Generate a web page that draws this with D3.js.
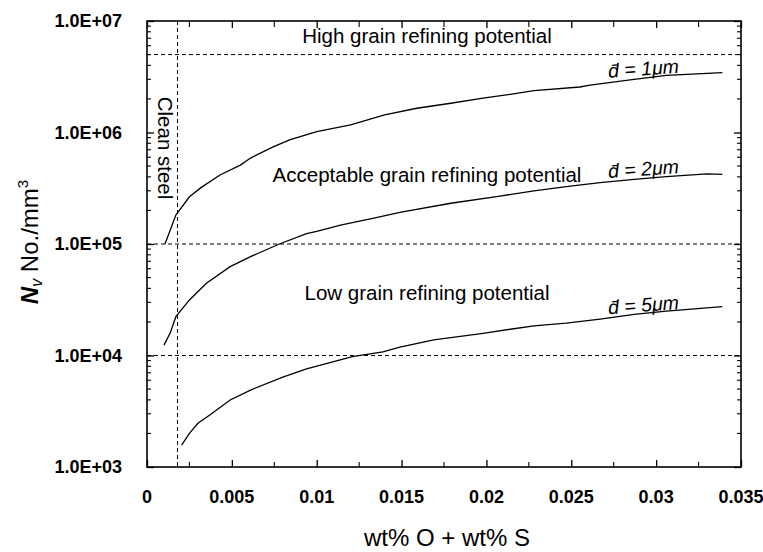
<!DOCTYPE html>
<html lang="en">
<head>
<meta charset="UTF-8">
<script src="https://cdn.jsdelivr.net/npm/d3@7"></script>
<title>Nv vs wt% O + wt% S</title>
<style>
  body { margin: 0; background: #fff; }
  svg text { font-family: "Liberation Sans", Arial, sans-serif; fill: #000; }
  .tick-lbl { font-size: 18px; font-weight: bold; }
  .zone { font-size: 20.5px; }
</style>
</head>
<body>
<script>
// curve d = 1 um
let xD1 = [0.00106, 0.0017, 0.0025, 0.0032, 0.0043, 0.0055, 0.0061, 0.0074, 0.0084, 0.0100, 0.0120, 0.0140, 0.0159, 0.0179, 0.0198, 0.0214, 0.0228, 0.0255, 0.0261, 0.0287, 0.0306, 0.0339];
let yD1 = [1.0e5, 1.82e5, 2.65e5, 3.22e5, 4.16e5, 5.1e5, 5.9e5, 7.4e5, 8.6e5, 1.02e6, 1.17e6, 1.44e6, 1.65e6, 1.83e6, 2.03e6, 2.2e6, 2.37e6, 2.56e6, 2.66e6, 3.0e6, 3.26e6, 3.44e6];
// curve d = 2 um
let xD2 = [0.0010, 0.00136, 0.0017, 0.0025, 0.0035, 0.0049, 0.0061, 0.0078, 0.0094, 0.0100, 0.0114, 0.0133, 0.0149, 0.0179, 0.0208, 0.0228, 0.0247, 0.0267, 0.0287, 0.0306, 0.0330, 0.0339];
let yD2 = [1.24e4, 1.58e4, 2.23e4, 3.15e4, 4.45e4, 6.26e4, 7.7e4, 1.0e5, 1.24e5, 1.3e5, 1.48e5, 1.7e5, 1.92e5, 2.32e5, 2.69e5, 3.0e5, 3.27e5, 3.55e5, 3.8e5, 4.02e5, 4.25e5, 4.22e5];
// curve d = 5 um
let xD5 = [0.00204, 0.0025, 0.0030, 0.0037, 0.0049, 0.0061, 0.0080, 0.0094, 0.0110, 0.0121, 0.0139, 0.0149, 0.0169, 0.0198, 0.0214, 0.0228, 0.0247, 0.0267, 0.0287, 0.0306, 0.0339];
let yD5 = [1.57e3, 2.0e3, 2.47e3, 2.93e3, 3.99e3, 4.9e3, 6.4e3, 7.6e3, 8.8e3, 9.77e3, 1.08e4, 1.19e4, 1.38e4, 1.58e4, 1.72e4, 1.84e4, 1.95e4, 2.12e4, 2.34e4, 2.5e4, 2.74e4];

let xTicks = [0, 0.005, 0.01, 0.015, 0.02, 0.025, 0.03, 0.035];
let xTickLabels = ["0", "0.005", "0.01", "0.015", "0.02", "0.025", "0.03", "0.035"];
let yTicks = [1e3, 1e4, 1e5, 1e6, 1e7];
let yTickLabels = ["1.0E+03", "1.0E+04", "1.0E+05", "1.0E+06", "1.0E+07"];
let limitValues = [5e6, 1e5, 1e4];
let cleanSteel = 0.0018;

let zoneNames = ["High grain refining potential", "Acceptable grain refining potential", "Low grain refining potential"];
let zoneValues = [6.35e6, 3.6e5, 3.15e4];
let curveNames = ["d\u0304 = 1\u03bcm", "d\u0304 = 2\u03bcm", "d\u0304 = 5\u03bcm"];
let curveLabelAt = [[0.0272, 3.1e6], [0.0272, 3.9e5], [0.0272, 2.35e4]];

let width = 763, height = 552;
let margin = {top: 21, right: 22, bottom: 85, left: 147};
let x = d3.scaleLinear().domain([0, 0.035]).range([margin.left, width - margin.right]);
let y = d3.scaleLog().domain([1e3, 1e7]).range([height - margin.bottom, margin.top]);

let svg = d3.select("body").append("svg")
  .attr("width", width).attr("height", height);

// minor ticks for the log axes and the half steps on x
let minorY = [];
for (let e = 3; e < 7; e++) {
  for (let m = 2; m <= 9; m++) minorY.push(m * Math.pow(10, e));
}
let minorX = d3.range(0.0025, 0.035, 0.005);

function minorLines(g, data, horiz, len) {
  g.selectAll(".minor").data(data).enter().append("line").attr("class", "minor")
    .attr(horiz ? "x1" : "y1", d => horiz ? x(d) : y(d))
    .attr(horiz ? "x2" : "y2", d => horiz ? x(d) : y(d))
    .attr(horiz ? "y1" : "x1", 0).attr(horiz ? "y2" : "x2", len)
    .attr("stroke", "#000");
}

// ticks point inward on all four sides
let xb = svg.append("g").attr("transform", "translate(0," + y(1e3) + ")");
xb.call(d3.axisBottom(x).tickValues(xTicks).tickSizeInner(-7).tickSizeOuter(0).tickFormat(""));
minorLines(xb, minorX, true, -5);
let xt = svg.append("g").attr("transform", "translate(0," + y(1e7) + ")");
xt.call(d3.axisTop(x).tickValues(xTicks).tickSizeInner(-7).tickSizeOuter(0).tickFormat(""));
minorLines(xt, minorX, true, 6);

let yl = svg.append("g").attr("transform", "translate(" + x(0) + ",0)");
yl.call(d3.axisLeft(y).tickValues(yTicks).tickSizeInner(-7).tickSizeOuter(0).tickFormat(""));
minorLines(yl, minorY, false, 4);
let yr = svg.append("g").attr("transform", "translate(" + x(0.035) + ",0)");
yr.call(d3.axisRight(y).tickValues(yTicks).tickSizeInner(-7).tickSizeOuter(0).tickFormat(""));
minorLines(yr, minorY, false, -4);

svg.selectAll(".domain").remove();
svg.selectAll(".tick line").attr("stroke-width", 1.3);
svg.selectAll("line.minor").attr("stroke-width", 1.1);

// frame
svg.append("rect")
  .attr("x", x(0)).attr("y", y(1e7))
  .attr("width", x(0.035) - x(0)).attr("height", y(1e3) - y(1e7))
  .attr("fill", "none").attr("stroke", "#000").attr("stroke-width", 1.6);

// tick labels
svg.append("g").selectAll("text").data(xTicks).enter().append("text")
  .attr("class", "tick-lbl")
  .attr("x", d => x(d)).attr("y", y(1e3) + 36)
  .attr("text-anchor", "middle")
  .text((d, i) => xTickLabels[i]);
svg.append("g").selectAll("text").data(yTicks).enter().append("text")
  .attr("class", "tick-lbl")
  .attr("x", x(0) - 25).attr("y", d => y(d)).attr("dy", "0.36em")
  .attr("text-anchor", "end")
  .text((d, i) => yTickLabels[i]);

// dashed limit lines
svg.append("g").selectAll("line").data(limitValues).enter().append("line")
  .attr("x1", x(0)).attr("x2", x(0.035))
  .attr("y1", d => y(d)).attr("y2", d => y(d))
  .attr("stroke", "#000").attr("stroke-width", 1).attr("stroke-dasharray", "4,3");
svg.append("line")
  .attr("x1", x(cleanSteel)).attr("x2", x(cleanSteel))
  .attr("y1", y(1e7)).attr("y2", y(1e3))
  .attr("stroke", "#000").attr("stroke-width", 1).attr("stroke-dasharray", "4,3");

// curves
let line = d3.line().x(d => x(d[0])).y(d => y(d[1]));
[[xD1, yD1], [xD2, yD2], [xD5, yD5]].forEach(s => {
  svg.append("path")
    .datum(d3.zip(s[0], s[1]))
    .attr("d", line)
    .attr("fill", "none").attr("stroke", "#000").attr("stroke-width", 1.3);
});

// zone labels
svg.append("g").selectAll("text").data(zoneNames).enter().append("text")
  .attr("class", "zone")
  .attr("x", 427).attr("y", (d, i) => y(zoneValues[i]))
  .attr("text-anchor", "middle")
  .text(d => d);

// curve labels
svg.append("g").selectAll("text").data(curveNames).enter().append("text")
  .attr("transform", (d, i) => "translate(" + x(curveLabelAt[i][0]) + "," + y(curveLabelAt[i][1]) + ") rotate(-4)")
  .style("font-size", "19.5px").style("font-style", "italic")
  .text(d => d);

// clean steel
svg.append("text")
  .attr("class", "zone")
  .attr("transform", "translate(158,148) rotate(90)")
  .attr("text-anchor", "middle")
  .text("Clean steel");

// axis titles
svg.append("text")
  .attr("x", 447).attr("y", 546)
  .attr("text-anchor", "middle")
  .style("font-size", "24px")
  .text("wt% O + wt% S");

let yt = svg.append("text")
  .attr("transform", "translate(38,242) rotate(-90)")
  .attr("text-anchor", "middle")
  .style("font-size", "24px");
yt.append("tspan").style("font-weight", "bold").style("font-style", "italic").text("N");
yt.append("tspan").style("font-style", "italic").style("font-size", "16px").attr("dy", 4).text("v");
yt.append("tspan").attr("dy", -4).text(" No./mm");
yt.append("tspan").style("font-size", "15px").attr("dy", -10).text("3");
</script>
</body>
</html>
